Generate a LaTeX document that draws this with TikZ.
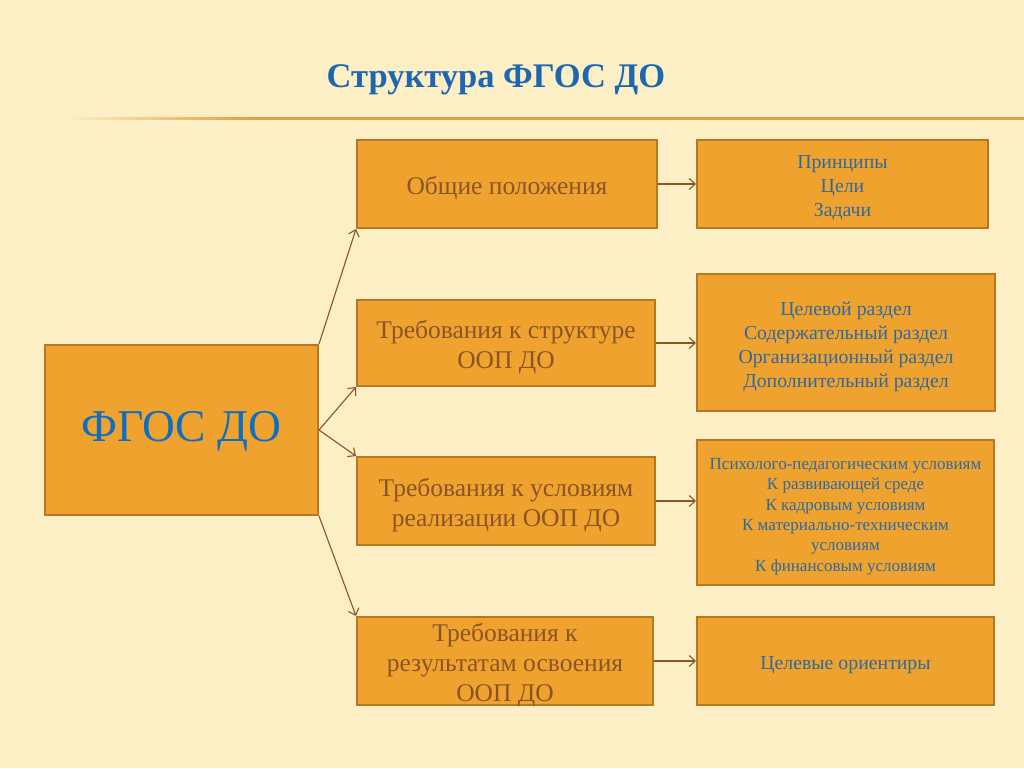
\documentclass[tikz,border=0pt]{standalone}
\usepackage{fontspec}
\setmainfont{Liberation Serif}
\usetikzlibrary{arrows.meta}
\definecolor{bg}{HTML}{FCEFC6}
\definecolor{boxfill}{HTML}{F0A22E}
\definecolor{boxline}{HTML}{B47A22}
\definecolor{brown}{HTML}{8A5526}
\definecolor{tblue}{HTML}{1F66B0}
\definecolor{mblue}{HTML}{0D6FC2}
\definecolor{rblue}{HTML}{2F6A9E}
\definecolor{rule}{HTML}{E6A040}
\definecolor{arr}{HTML}{8A5526}
\tikzset{
  box/.style={draw=boxline, line width=2pt, fill=boxfill, inner sep=0pt},
  txt/.style={align=center, inner sep=0pt},
  midtxt/.style={txt, text=brown, font=\fontsize{25.5}{30}\selectfont},
  rtxt/.style={txt, text=rblue, font=\fontsize{19.8}{24}\selectfont},
  conn/.style={draw=arr, line width=1.1pt, -{Straight Barb[length=6pt,width=11pt]}}
}
\begin{document}
\begin{tikzpicture}[x=1pt,y=-1pt]
\fill[bg] (0,0) rectangle (1024,768);
\useasboundingbox (0,0) rectangle (1024,768);
% title rule
\shade[left color=bg, right color=rule] (65,117) rectangle (250,119.5);
\fill[rule] (250,117) rectangle (1024,119.5);
\node[font=\bfseries\fontsize{34.5}{38}\selectfont, text=tblue] (title) at (496,80) {Структура ФГОС ДО};
% main
\node[box, minimum width=273pt, minimum height=170pt] (main) at (181.5,430) {};
\node[txt, text=mblue, font=\fontsize{45.5}{50}\selectfont] (maint) at ([yshift=-1pt]main.center) {ФГОС ДО};
% middle
\node[box, minimum width=300pt, minimum height=88pt] (b1) at (507,184) {};
\node[box, minimum width=298pt, minimum height=86pt] (b2) at (506,343) {};
\node[box, minimum width=298pt, minimum height=88pt] (b3) at (506,501) {};
\node[box, minimum width=296pt, minimum height=88pt] (b4) at (505,661) {};
\node[midtxt] (b1t) at ([yshift=-4pt]b1.center) {Общие положения};
\node[midtxt] (b2t) at ([yshift=-4pt]b2.center) {Требования к структуре\\ООП ДО};
\node[midtxt] (b3t) at ([yshift=-4pt]b3.center) {Требования к условиям\\реализации ООП ДО};
\node[midtxt] (b4t) at ([yshift=-4pt]b4.center) {Требования к\\результатам освоения\\ООП ДО};
% right
\node[box, minimum width=291pt, minimum height=88pt] (r1) at (842.5,184) {};
\node[box, minimum width=298pt, minimum height=137pt] (r2) at (846,342.5) {};
\node[box, minimum width=297pt, minimum height=145pt] (r3) at (845.5,512.5) {};
\node[box, minimum width=297pt, minimum height=88pt] (r4) at (845.5,661) {};
\node[rtxt] (r1t) at ([yshift=-4pt]r1.center) {Принципы\\Цели\\Задачи};
\node[rtxt] (r2t) at ([yshift=-4pt]r2.center) {Целевой раздел\\Содержательный раздел\\Организационный раздел\\Дополнительный раздел};
\node[rtxt, font=\fontsize{17}{20.4}\selectfont] (r3t) at ([yshift=-4pt]r3.center) {Психолого-педагогическим условиям\\К развивающей среде\\К кадровым условиям\\К материально-техническим\\условиям\\К финансовым условиям};
\node[rtxt] (r4t) at ([yshift=-4pt]r4.center) {Целевые ориентиры};
% connectors
\draw[conn] (main.north east) -- (b1.south west);
\draw[conn] (main.east) -- (b2.south west);
\draw[conn] (main.east) -- (b3.north west);
\draw[conn] (main.south east) -- (b4.north west);
\draw[conn] (b1.east) -- (b1.east -| r1.west);
\draw[conn] (b2.east) -- (b2.east -| r2.west);
\draw[conn] (b3.east) -- (b3.east -| r3.west);
\draw[conn] (b4.east) -- (b4.east -| r4.west);
\end{tikzpicture}
\end{document}
